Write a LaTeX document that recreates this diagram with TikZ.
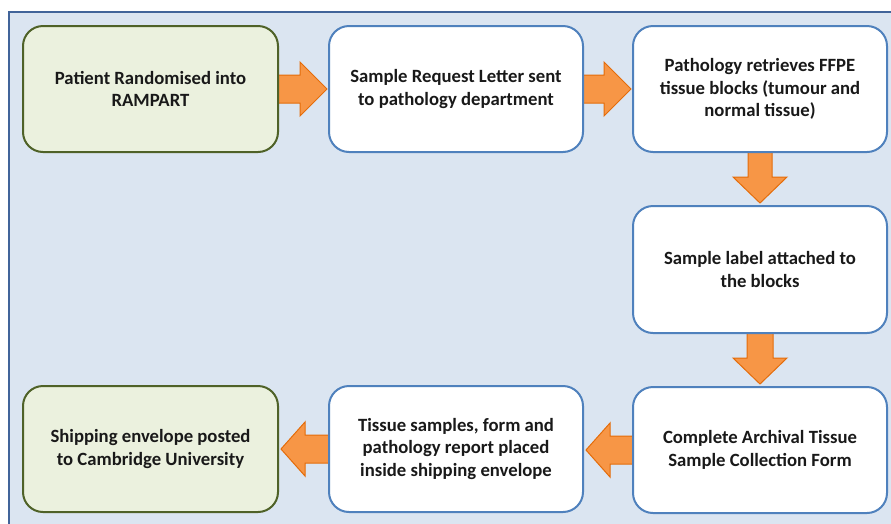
\documentclass[tikz,border=0pt]{standalone}
\usepackage{fontspec}
\setmainfont{Carlito}
\usetikzlibrary{calc}
\pgfdeclarelayer{bg}
\pgfdeclarelayer{arr}
\pgfsetlayers{bg,arr,main}
\definecolor{panel}{HTML}{DBE5F1}
\definecolor{panelline}{HTML}{41649A}
\definecolor{greenfill}{HTML}{EBF1DE}
\definecolor{greenline}{HTML}{4F6228}
\definecolor{blueline}{HTML}{4F81BD}
\definecolor{arrfill}{HTML}{F79646}
\definecolor{arrline}{HTML}{E46C0A}
\begin{document}
\begin{tikzpicture}[x=1pt,y=-1pt,
  box/.style={draw=blueline,fill=white,line width=2pt,rounded corners=20pt,
    minimum width=254pt,minimum height=126pt,align=center,
    font=\fontsize{18.7}{22.5}\selectfont\bfseries,text=black!90,inner sep=0pt},
  gbox/.style={box,draw=greenline,fill=greenfill},
  barrow/.style={fill=arrfill,draw=arrline,line width=1pt,line join=miter}]
\useasboundingbox (0,0) rectangle (891,523);
\begin{pgfonlayer}{bg}
  \fill[white] (0,0) rectangle (891,523);
  \fill[panel] (9,12) rectangle (900,530);
  \draw[panelline,line width=2pt] (9,530) -- (9,12) -- (900,12);
\end{pgfonlayer}

\node[gbox,minimum width=255pt] (b1) at (150.5,89) {Patient Randomised into\\RAMPART};
\node[box] (b2) at (456,89) {Sample Request Letter sent\\to pathology department};
\node[box] (b3) at (760,89) {Pathology retrieves FFPE\\tissue blocks (tumour and\\normal tissue)};
\node[box,minimum height=127pt] (b4) at (760,269.5) {Sample label attached to\\the blocks};
\node[box] (b5) at (760,450) {Complete Archival Tissue\\Sample Collection Form};
\node[box] (b6) at (456,449) {Tissue samples, form and\\pathology report placed\\inside shipping envelope};
\node[gbox,minimum width=255pt] (b7) at (150.5,449) {Shipping envelope posted\\to Cambridge University};

\begin{pgfonlayer}{arr}
  % right arrows
  \draw[barrow] let \p1=(b1.east),\p2=(b2.west) in
    (\x1-3pt,\y1+14pt) -- (\x2-28pt,\y1+14pt) -- (\x2-28pt,\y1+27pt) -- (\x2-1pt,\y1)
    -- (\x2-28pt,\y1-27pt) -- (\x2-28pt,\y1-14pt) -- (\x1-3pt,\y1-14pt) -- cycle;
  \draw[barrow] let \p1=(b2.east),\p2=(b3.west) in
    (\x1-3pt,\y1+14pt) -- (\x2-28pt,\y1+14pt) -- (\x2-28pt,\y1+27pt) -- (\x2-1pt,\y1)
    -- (\x2-28pt,\y1-27pt) -- (\x2-28pt,\y1-14pt) -- (\x1-3pt,\y1-14pt) -- cycle;
  % down arrows
  \draw[barrow] let \p1=(b3.south),\p2=(b4.north) in
    (\x1-12pt,\y1+3pt) -- (\x1-12pt,\y2+28pt) -- (\x1-27pt,\y2+28pt) -- (\x1,\y2+2pt)
    -- (\x1+27pt,\y2+28pt) -- (\x1+12pt,\y2+28pt) -- (\x1+12pt,\y1+3pt) -- cycle;
  \draw[barrow] let \p1=(b4.south),\p2=(b5.north) in
    (\x1-13pt,\y1+3pt) -- (\x1-13pt,\y2+28pt) -- (\x1-27pt,\y2+28pt) -- (\x1,\y2+2pt)
    -- (\x1+27pt,\y2+28pt) -- (\x1+13pt,\y2+28pt) -- (\x1+13pt,\y1+3pt) -- cycle;
  % left arrows
  \draw[barrow] let \p1=(b5.west),\p2=(b6.east) in
    (\x1+3pt,\y1+14pt) -- (\x2+26pt,\y1+14pt) -- (\x2+26pt,\y1+27pt) -- (\x2+2pt,\y1)
    -- (\x2+26pt,\y1-27pt) -- (\x2+26pt,\y1-14pt) -- (\x1+3pt,\y1-14pt) -- cycle;
  \draw[barrow] let \p1=(b6.west),\p2=(b7.east) in
    (\x1+3pt,\y1+14pt) -- (\x2+26pt,\y1+14pt) -- (\x2+26pt,\y1+27pt) -- (\x2+2pt,\y1)
    -- (\x2+26pt,\y1-27pt) -- (\x2+26pt,\y1-14pt) -- (\x1+3pt,\y1-14pt) -- cycle;
\end{pgfonlayer}
\end{tikzpicture}
\end{document}
